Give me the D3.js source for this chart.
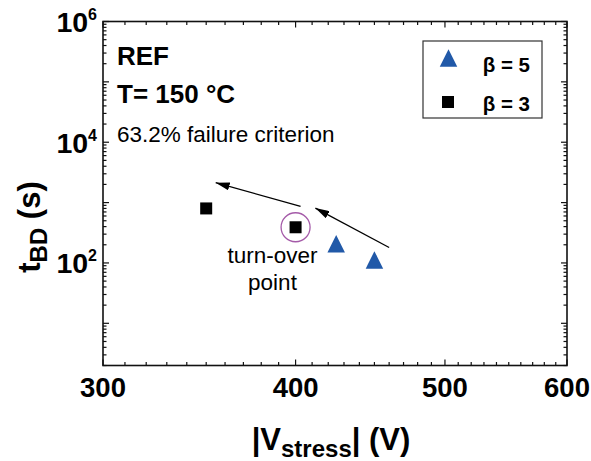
<!DOCTYPE html>
<html>
<head>
<meta charset="utf-8">
<script src="https://cdn.jsdelivr.net/npm/d3@7"></script>
<style>
  html, body { margin: 0; padding: 0; background: #fff; }
  svg { display: block; font-family: "Liberation Sans", Arial, Helvetica, sans-serif; }
</style>
</head>
<body>
<svg id="chart" width="591" height="461"></svg>
<script>
// Breakdown time vs. stress voltage (log–log)
const seriesNames = ["β = 5", "β = 3"];
const beta5Voltage = [425, 450];
const beta5Time = [200, 108];
const beta3Voltage = [350, 400];
const beta3Time = [800, 390];
const turnOver = [400, 390];
const xTickLabels = [300, 400, 500, 600];
const yTickLabelExponents = [2, 4, 6];
// annotation arrows, [voltage, time] pairs
const arrowStarts = [[460, 180], [403, 865]];
const arrowEnds = [[412, 810], [355, 2140]];

const W = 591, H = 461;
const margin = { left: 103, right: 24, top: 21.5, bottom: 95.5 };
const svg = d3.select("#chart");

const x = d3.scaleLog().domain([300, 600]).range([margin.left, W - margin.right]);
const y = d3.scaleLog().domain([2, 1e6]).range([H - margin.bottom, margin.top]);
const [x0, x1] = x.range();
const [y0, y1] = y.range();

const blue = "#2159a8";
const purple = "#a45aa8";

// defs: arrowhead
svg.append("defs").append("marker")
  .attr("id", "arrowhead")
  .attr("viewBox", "0 0 14 8")
  .attr("refX", 14).attr("refY", 4)
  .attr("markerWidth", 14).attr("markerHeight", 8)
  .attr("markerUnits", "userSpaceOnUse")
  .attr("orient", "auto")
  .append("path").attr("d", "M0,0 L14,4 L0,8 Z").attr("fill", "#000");

// tick sets
const xMajor = [300, 400, 500, 600];
const xMinor = d3.range(310, 600, 10).filter(v => !xMajor.includes(v));
const yMajor = d3.range(1, 7).map(e => Math.pow(10, e));
const yMinor = [];
for (let e = 0; e < 6; e++) for (let m = 2; m <= 9; m++) {
  const v = m * Math.pow(10, e);
  if (v >= 2 && v < 1e6) yMinor.push(v);
}

const tickG = svg.append("g").attr("stroke", "#111").attr("stroke-width", 1.2);
const majLen = 6, minLen = 3.5;
// bottom and top ticks (inward)
xMajor.concat(xMinor).forEach(v => {
  const len = xMajor.includes(v) ? majLen : minLen;
  tickG.append("line").attr("x1", x(v)).attr("x2", x(v)).attr("y1", y0).attr("y2", y0 - len);
  tickG.append("line").attr("x1", x(v)).attr("x2", x(v)).attr("y1", y1).attr("y2", y1 + len);
});
// left and right ticks (inward)
yMajor.concat(yMinor).forEach(v => {
  const len = yMajor.includes(v) ? majLen : minLen;
  tickG.append("line").attr("y1", y(v)).attr("y2", y(v)).attr("x1", x0).attr("x2", x0 + len);
  tickG.append("line").attr("y1", y(v)).attr("y2", y(v)).attr("x1", x1).attr("x2", x1 - len);
});

// frame
svg.append("rect")
  .attr("x", x0).attr("y", y1)
  .attr("width", x1 - x0).attr("height", y0 - y1)
  .attr("fill", "none").attr("stroke", "#111").attr("stroke-width", 1.6);

// x tick labels
svg.append("g").selectAll("text").data(xTickLabels).join("text")
  .attr("x", d => x(d)).attr("y", 397)
  .attr("text-anchor", "middle")
  .attr("font-size", 27.5).attr("font-weight", "bold")
  .text(d => d);

// y tick labels: 10^n
const yl = svg.append("g").selectAll("text").data(yTickLabelExponents).join("text")
  .attr("x", 97).attr("y", d => y(Math.pow(10, d)) + 10.5)
  .attr("text-anchor", "end")
  .attr("font-size", 28.5).attr("font-weight", "bold");
yl.append("tspan").text("10");
yl.append("tspan").attr("font-size", 16).attr("dy", -12).text(d => d);

// axis titles
const xt = svg.append("text")
  .attr("x", 331).attr("y", 450)
  .attr("text-anchor", "middle")
  .attr("font-size", 31).attr("font-weight", "bold");
xt.append("tspan").text("|V");
xt.append("tspan").attr("font-size", 24).attr("dy", 7).text("stress");
xt.append("tspan").attr("dy", -7).text("| (V)");

const yt = svg.append("text")
  .attr("transform", "translate(40,227) rotate(-90)")
  .attr("text-anchor", "middle")
  .attr("font-size", 31).attr("font-weight", "bold");
yt.append("tspan").text("t");
yt.append("tspan").attr("font-size", 24).attr("dy", 7).text("BD");
yt.append("tspan").attr("dy", -7).text(" (s)");

// annotations in the plot
svg.append("text").attr("x", 117).attr("y", 65)
  .attr("font-size", 26).attr("font-weight", "bold").text("REF");
svg.append("text").attr("x", 117).attr("y", 103)
  .attr("font-size", 26).attr("font-weight", "bold").text("T= 150 °C");
svg.append("text").attr("x", 117).attr("y", 141.5)
  .attr("font-size", 22.5).text("63.2% failure criterion");

const to = svg.append("text").attr("x", 272.5).attr("y", 263)
  .attr("text-anchor", "middle").attr("font-size", 22.5);
to.append("tspan").attr("x", 272.5).text("turn-over");
to.append("tspan").attr("x", 272.5).attr("dy", 26.5).text("point");

// arrows
svg.append("g").selectAll("line").data(arrowStarts.map((s, i) => [s, arrowEnds[i]])).join("line")
  .attr("x1", d => x(d[0][0])).attr("y1", d => y(d[0][1]))
  .attr("x2", d => x(d[1][0])).attr("y2", d => y(d[1][1]))
  .attr("stroke", "#000").attr("stroke-width", 1.3)
  .attr("marker-end", "url(#arrowhead)");

// turn-over circle
svg.append("circle")
  .attr("cx", x(turnOver[0])).attr("cy", y(turnOver[1])).attr("r", 14.5)
  .attr("fill", "none").attr("stroke", purple).attr("stroke-width", 1.3);

// markers
const triPath = s => `M0,${-s * 0.56} L${s * 0.5},${s * 0.44} L${-s * 0.5},${s * 0.44} Z`;
const sq = 12, tri = 17.5;
svg.append("g").selectAll("path").data(d3.zip(beta5Voltage, beta5Time)).join("path")
  .attr("transform", d => `translate(${x(d[0])},${y(d[1])})`)
  .attr("d", triPath(tri)).attr("fill", blue);
svg.append("g").selectAll("rect").data(d3.zip(beta3Voltage, beta3Time)).join("rect")
  .attr("x", d => x(d[0]) - sq / 2).attr("y", d => y(d[1]) - sq / 2)
  .attr("width", sq).attr("height", sq).attr("fill", "#000");

// legend
const lg = svg.append("g");
lg.append("rect").attr("x", 423).attr("y", 41).attr("width", 119).attr("height", 77)
  .attr("fill", "#fff").attr("stroke", "#333").attr("stroke-width", 1.2);
lg.append("path").attr("transform", "translate(448.5,59)").attr("d", triPath(tri)).attr("fill", blue);
lg.append("rect").attr("x", 442).attr("y", 96).attr("width", sq).attr("height", sq).attr("fill", "#000");
lg.selectAll("text.lab").data(seriesNames).join("text")
  .attr("class", "lab")
  .attr("x", 530).attr("y", (d, i) => i === 0 ? 72 : 110.5)
  .attr("text-anchor", "end")
  .attr("font-size", 20.5).attr("font-weight", "bold")
  .text(d => d);
</script>
</body>
</html>
